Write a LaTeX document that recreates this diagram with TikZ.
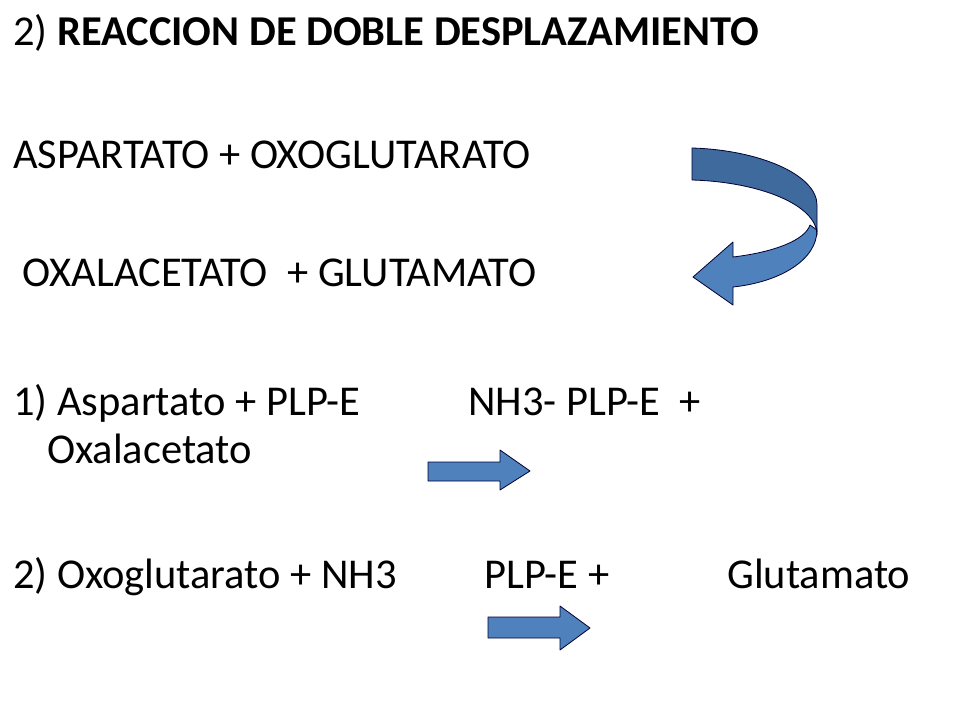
\documentclass[tikz,border=0pt]{standalone}
\usepackage{fontspec}
\setmainfont{Carlito}
\begin{document}
\begin{tikzpicture}[x=1pt,y=-1pt,
  txt/.style={anchor=base west,inner sep=0pt,font=\fontsize{42.5}{48}\selectfont},
  arr/.style={fill=arrowblue,draw=black!80!blue,line width=0.8pt,line join=round}]
\definecolor{arrowblue}{HTML}{4F81BD}
\definecolor{arrowdark}{HTML}{3F6A9E}
\useasboundingbox (0,0) rectangle (960,720);
\node[txt] (t1) at (13,45) {2) \textbf{REACCION DE DOBLE DESPLAZAMIENTO}};
\node[txt] (t2) at (13,168) {ASPARTATO + OXOGLUTARATO};
\node[txt] (t3) at (13,286) {\ OXALACETATO\ \ + GLUTAMATO};
\node[txt] (t4) at (13,415) {1) Aspartato + PLP-E};
\node[txt] (t4b) at (468,415) {NH3- PLP-E\ \ +};
\node[txt] (t4c) at (47,463) {Oxalacetato};
\node[txt] (t5) at (13,588) {2) Oxoglutarato + NH3};
\node[txt] (t5b) at (484,588) {PLP-E +};
\node[txt] (t5c) at (727,588) {Glutamato};
% curved arrow, lower part
\draw[arr] (817,230) .. controls (817,260) and (780,282) .. (733,287)
  -- (733,305) -- (693,277) -- (733,242) -- (733,257)
  .. controls (775,252) and (805,240) .. (810,225) -- cycle;
% upper band
\draw[arr,fill=arrowdark] (692,148) .. controls (760,150) and (817,175) .. (817,205)
  -- (817,235) .. controls (817,205) and (760,182) .. (692,180) -- cycle;
% straight arrows
\draw[arr] (428,462) -- (500,462) -- (500,450) -- (530,471) -- (500,490) -- (500,481) -- (428,481) -- cycle;
\draw[arr] (488,617) -- (560,617) -- (560,606) -- (590,628) -- (560,650) -- (560,638) -- (488,638) -- cycle;
\end{tikzpicture}
\end{document}
